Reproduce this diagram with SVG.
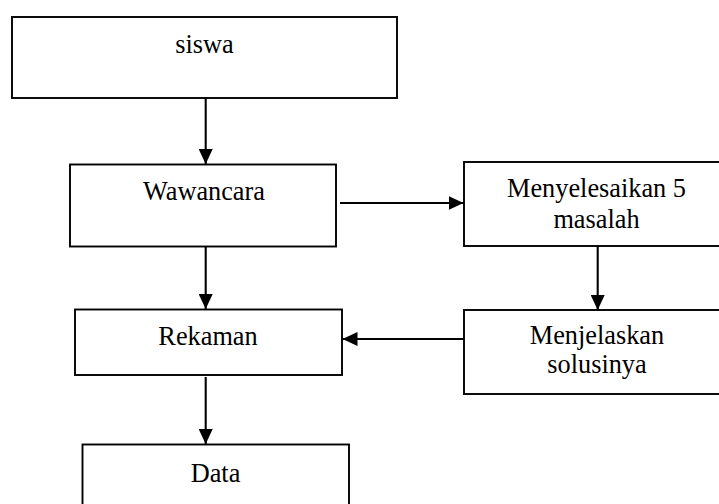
<svg xmlns="http://www.w3.org/2000/svg" width="719" height="504" viewBox="0 0 719 504">
<style>
.box{fill:#fff;stroke:#000;stroke-width:1.9}
.lbl{font-family:"Liberation Serif","Times New Roman",serif;font-size:26.3px;fill:#000;text-anchor:middle}
.con{stroke:#000;stroke-width:2.1;fill:none}
</style>
<defs>
<marker id="ah" viewBox="0 0 15 14" refX="15" refY="7" markerWidth="15" markerHeight="14" markerUnits="userSpaceOnUse" orient="auto">
<path d="M0,0 L15,7 L0,14 Z" fill="#000"/>
</marker>
</defs>
<rect width="719" height="504" fill="#fff"/>
<g id="siswa"><rect class="box" x="12" y="17" width="385" height="81"/><text class="lbl" x="204.5" y="53">siswa</text></g>
<g id="wawancara"><rect class="box" x="70" y="164.5" width="266" height="82"/><text class="lbl" x="204" y="200">Wawancara</text></g>
<g id="menyelesaikan"><rect class="box" x="464" y="162" width="265" height="84"/><text class="lbl" x="596.5" y="197">Menyelesaikan 5</text><text class="lbl" x="596.5" y="228">masalah</text></g>
<g id="menjelaskan"><rect class="box" x="464" y="310" width="265" height="84"/><text class="lbl" x="597" y="344">Menjelaskan</text><text class="lbl" x="597" y="373">solusinya</text></g>
<g id="rekaman"><rect class="box" x="75" y="309.5" width="267" height="65.5"/><text class="lbl" x="208" y="345">Rekaman</text></g>
<g id="data"><rect class="box" x="82.5" y="444.5" width="266.5" height="80"/><text class="lbl" x="215.5" y="481.5">Data</text></g>
<g id="connectors">
<line class="con" x1="205.7" y1="98" x2="205.7" y2="164" marker-end="url(#ah)"/>
<line class="con" x1="340" y1="203" x2="463.5" y2="203" marker-end="url(#ah)"/>
<line class="con" x1="597.7" y1="246" x2="597.7" y2="310" marker-end="url(#ah)"/>
<line class="con" x1="464" y1="339" x2="342.5" y2="339" marker-end="url(#ah)"/>
<line class="con" x1="205.7" y1="246.5" x2="205.7" y2="309" marker-end="url(#ah)"/>
<line class="con" x1="205.7" y1="377" x2="205.7" y2="444" marker-end="url(#ah)"/>
</g>
</svg>
